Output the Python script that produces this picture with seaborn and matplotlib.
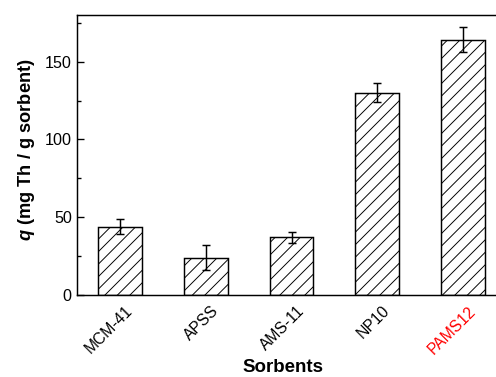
import matplotlib
matplotlib.use("Agg")
import matplotlib.pyplot as plt
import matplotlib.transforms as mtransforms
from matplotlib.ticker import MultipleLocator
import numpy as np
import pandas as pd
import seaborn as sns

# Thorium uptake per sorbent
sorbents = ["MCM-41", "APSS", "AMS-11", "NP10", "PAMS12"]
uptake = [44, 24, 37, 130, 164]
uptake_err = [5, 8, 3.5, 6, 8]
label_colors = ["black", "black", "black", "black", "red"]

sns.set_theme(style="white")
plt.rcParams["font.family"] = ["Liberation Sans", "DejaVu Sans"]
plt.rcParams["text.color"] = "black"
plt.rcParams["axes.labelcolor"] = "black"
plt.rcParams["xtick.color"] = "black"
plt.rcParams["ytick.color"] = "black"
plt.rcParams["mathtext.fontset"] = "custom"
plt.rcParams["mathtext.bfit"] = "Liberation Sans:italic:bold"
plt.rcParams["mathtext.bf"] = "Liberation Sans:bold"
plt.rcParams["mathtext.rm"] = "Liberation Sans"
plt.rcParams["hatch.linewidth"] = 0.9
plt.rcParams["hatch.color"] = "#333333"

DPI = 75
fig = plt.figure(figsize=(496 / DPI, 377 / DPI), dpi=DPI)
ax = fig.add_axes([77 / 496, 1 - 295 / 377, (506 - 77) / 496, (295 - 15) / 377])

df = pd.DataFrame({"Sorbent": sorbents, "q": uptake})
sns.barplot(data=df, x="Sorbent", y="q", ax=ax, color="white", edgecolor="black",
            linewidth=1.4, hatch="//", width=0.51, errorbar=None, saturation=1)
ax.errorbar(np.arange(len(sorbents)), uptake, yerr=uptake_err, fmt="none",
            ecolor="black", elinewidth=1.4, capsize=4, capthick=1.4, zorder=5)

ax.set_xlim(-0.5, len(sorbents) - 0.5)
ax.set_ylim(0, 180)
ax.yaxis.set_major_locator(MultipleLocator(50))
ax.yaxis.set_minor_locator(MultipleLocator(25))
ax.tick_params(axis="y", which="major", direction="in", length=7, width=1.3,
               labelsize=15.5, left=True, pad=5)
ax.tick_params(axis="y", which="minor", direction="in", length=4, width=1.3, left=True)
ax.tick_params(axis="x", which="both", length=0, labelsize=15, pad=8)

for s in ax.spines.values():
    s.set_linewidth(1.4)
    s.set_color("black")

ax.set_xticks(range(len(sorbents)))
ax.set_xticklabels(sorbents, rotation=45, ha="right", rotation_mode="anchor")
offset = mtransforms.ScaledTranslation(5 / DPI, 0, fig.dpi_scale_trans)
for lbl, c in zip(ax.get_xticklabels(), label_colors):
    lbl.set_color(c)
    lbl.set_transform(lbl.get_transform() + offset)

ax.set_xlabel("Sorbents", fontsize=18, fontweight="bold")
ax.set_ylabel(r"$\mathbfit{q}$ (mg Th / g sorbent)", fontsize=17.5, fontweight="bold")
ax.xaxis.set_label_coords((283 - 77) / (506 - 77), -(359 - 295) / 280)
ax.yaxis.set_label_coords(-(77 - 37) / (506 - 77), (295 - 150) / 280)

fig.savefig("out.png", dpi=DPI)
